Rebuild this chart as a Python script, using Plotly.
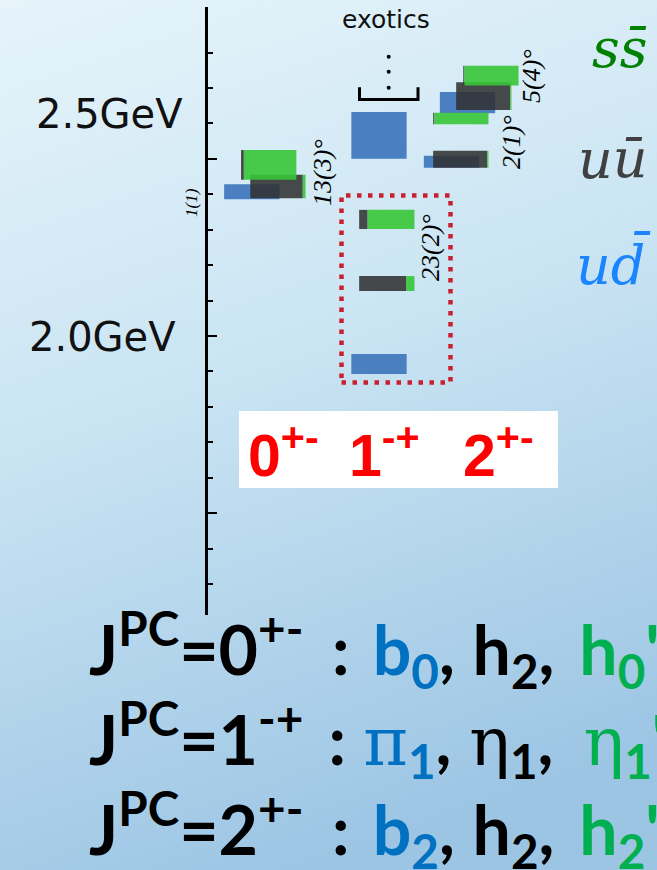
import base64
import math
import plotly.graph_objects as go

# ---------------- spectrum data ----------------
# isovector (u d-bar) states: J^PC, box centre and half-height (GeV)
iv_jpc = ["0+-", "1-+", "1-+", "2+-", "2+-"]
iv_mass = [2.407, 1.921, 2.566, 2.492, 2.659]
iv_err = [0.021, 0.028, 0.066, 0.017, 0.030]

# isoscalar pairs: mixing angle and its uncertainty (degrees)
pair_jpc = ["0+-", "1-+", "2+-", "2+-"]
pair_angle = [13, 23, 2, 5]
pair_angle_err = [3, 2, 1, 4]
# heavier member of each pair (mostly s s-bar)
heavy_mass = [2.483, 2.329, 2.614, 2.735]
heavy_err = [0.042, 0.027, 0.016, 0.028]
# lighter member of each pair (mostly u u-bar + d d-bar)
light_mass = [2.422, 2.148, 2.499, 2.677]
light_err = [0.033, 0.021, 0.024, 0.039]

# ---------------- layout constants ----------------
W, H = 657, 870
ML, MT, MB = 208, 7, 255
PW, PH = W - ML, H - MT - MB
PX_PER_GEV = 354.3
Y_LO = 2.0 - (H - MB - 336) / PX_PER_GEV
Y_HI = 2.0 + (336 - MT) / PX_PER_GEV
X_OFF = 207  # pixel where the x scale starts

# horizontal slot of each box (x axis: 100 px per unit)
iv_slot = [0.448, 1.72, 1.72, 2.445, 2.605]
heavy_slot = [0.617, 1.798, 2.538, 2.839]
light_slot = [0.709, 1.798, 2.538, 2.768]
BOX_W = 0.553
MIN_FRAC = 0.022  # keep a thin sliver visible for tiny mixing

BLUE = "rgb(74,127,193)"
GRAY = "rgba(50,50,50,0.88)"
GREEN = "rgba(55,197,55,0.9)"


def px(x):
    return (x - ML) / PW


def py(y):
    return (H - MB - y) / PH


# split every isoscalar box into a light (dark grey) and a strange (green) part
gray = dict(x=[], w=[], base=[], h=[])
green = dict(x=[], w=[], base=[], h=[])
for i, ang in enumerate(pair_angle):
    s2 = math.sin(math.radians(ang)) ** 2
    members = (
        (heavy_mass[i], heavy_err[i], heavy_slot[i], s2),
        (light_mass[i], light_err[i], light_slot[i], 1 - s2),
    )
    for mass, err, slot, light_frac in members:
        lf = min(max(light_frac, MIN_FRAC), 1 - MIN_FRAC)
        left = slot - BOX_W / 2
        wb = BOX_W * lf
        wg = BOX_W - wb
        gray["x"].append(left + wb / 2)
        gray["w"].append(wb)
        gray["base"].append(mass - err)
        gray["h"].append(2 * err)
        green["x"].append(left + wb + wg / 2)
        green["w"].append(wg)
        green["base"].append(mass - err)
        green["h"].append(2 * err)

fig = go.Figure()
fig.add_trace(go.Bar(
    x=iv_slot, y=[2 * e for e in iv_err], base=[m - e for m, e in zip(iv_mass, iv_err)],
    width=[BOX_W] * len(iv_mass), marker=dict(color=BLUE, line=dict(width=0)),
    hoverinfo="skip", showlegend=False))
fig.add_trace(go.Bar(
    x=gray["x"], y=gray["h"], base=gray["base"], width=gray["w"],
    marker=dict(color=GRAY, line=dict(width=0)), hoverinfo="skip", showlegend=False))
fig.add_trace(go.Bar(
    x=green["x"], y=green["h"], base=green["base"], width=green["w"],
    marker=dict(color=GREEN, line=dict(width=0)), hoverinfo="skip", showlegend=False))

# background gradient
svg = (
    f'<svg xmlns="http://www.w3.org/2000/svg" width="{W}" height="{H}">'
    '<defs><linearGradient id="g" gradientUnits="userSpaceOnUse" x1="0" y1="0" x2="300" y2="870">'
    '<stop offset="0" stop-color="#e6f4fa"/><stop offset="0.45" stop-color="#cbe5f3"/>'
    '<stop offset="1" stop-color="#9cc5e4"/></linearGradient></defs>'
    f'<rect width="{W}" height="{H}" fill="url(#g)"/></svg>'
)
bg_src = "data:image/svg+xml;base64," + base64.b64encode(svg.encode()).decode()

shapes = [
    # white panel behind the J^PC labels
    dict(type="rect", xref="paper", yref="paper", x0=px(239), x1=px(558), y0=py(488), y1=py(411),
         fillcolor="white", line=dict(width=0), layer="below"),
    # dotted frame around the 1-+ states
    dict(type="rect", xref="paper", yref="paper", x0=px(341.5), x1=px(450.5), y0=py(382.5), y1=py(195.5),
         line=dict(color="#c8202f", width=4.5, dash="4.5px,6.5px")),
    # bracket over the exotic column
    dict(type="path", xref="paper", yref="paper",
         path=f"M {px(359.5)} {py(87.3)} L {px(359.5)} {py(99.5)} L {px(418)} {py(99.5)} L {px(418)} {py(87.3)}",
         line=dict(color="black", width=3)),
]
for yd in (56.7, 71.7, 87.7):
    shapes.append(dict(type="circle", xref="paper", yref="paper",
                       x0=px(386.7), x1=px(390.7), y0=py(yd + 2), y1=py(yd - 2),
                       fillcolor="black", line=dict(width=0)))

ann = []


def add_text(text, x, y, size, family, color="black", xanchor="center", yanchor="middle",
             angle=0, style="normal", weight="normal"):
    ann.append(dict(text=text, x=px(x), y=py(y), xref="paper", yref="paper", showarrow=False,
                    xanchor=xanchor, yanchor=yanchor, textangle=angle,
                    font=dict(size=size, family=family, color=color, style=style, weight=weight)))


add_text("exotics", 386, 19, 25, "DejaVu Sans", color="#111")
add_text("2.5GeV", 185, 114, 40, "DejaVu Sans", xanchor="right", color="#111")
add_text("2.0GeV", 178, 337, 40, "DejaVu Sans", xanchor="right", color="#111")
add_text("1(1)", 192, 203, 17, "Liberation Serif", style="italic", angle=-90)

# mixing-angle labels
angle_label_pos = [(322, 173), (430, 248), (511, 142), (531, 76)]
for a, e, (lx, ly) in zip(pair_angle, pair_angle_err, angle_label_pos):
    add_text(f"{a}({e})°", lx, ly, 26, "Liberation Serif", style="italic", angle=-90)

# flavour key
add_text("ss\u0304", 619, 49, 54, "DejaVu Serif", color="green", style="italic")
add_text("uu\u0304", 613, 159, 54, "DejaVu Serif", color="#404040", style="italic")
add_text("ud\u0304", 613, 264, 54, "DejaVu Serif", color="#1a85ff", style="italic")

# J^PC column labels
jpc_text = ["0<sup>+-</sup>", "1<sup>-+</sup>", "2<sup>+-</sup>"]
jpc_x = [283, 384, 498]
for t, lx in zip(jpc_text, jpc_x):
    add_text(t, lx, 451, 59, "Liberation Sans", color="red", weight="bold")


# quantum-number summary lines
def gap(w):
    """Blank run about w pixels wide, built from small non-breaking spaces."""
    out = ""
    while w > 0.5:
        chunk = min(w, 12.0)
        out += f'<span style="font-size:{chunk / 0.193:.0f}px">\u00a0</span>'
        w -= chunk
    return out


BL = "#0070C0"
GR = "#00B050"
greek = "font-family:DejaVu Serif;font-weight:normal"
lines = [
    f'J<sup>PC</sup>=0<sup>+-</sup>{gap(22.6)}:{gap(18.6)}<span style="color:{BL}">b<sub>0</sub></span>,{gap(1)} h<sub>2</sub>,{gap(6.6)} '
    f'<span style="color:{GR}">h<sub>0</sub>\'</span>',
    f'J<sup>PC</sup>=1<sup>-+</sup>{gap(20)}:{gap(13.7)}<span style="color:{BL}"><span style="{greek}">π</span><sub>1</sub></span>,{gap(1)} '
    f'<span style="{greek}">η</span><sub>1</sub>,{gap(10.7)} <span style="color:{GR}"><span style="{greek}">η</span><sub>1</sub>\'</span>',
    f'J<sup>PC</sup>=2<sup>+-</sup>{gap(22.6)}:{gap(18.6)}<span style="color:{BL}">b<sub>2</sub></span>,{gap(1)} h<sub>2</sub>,{gap(6.6)} '
    f'<span style="color:{GR}">h<sub>2</sub>\'</span>',
]
for t, ly in zip(lines, (649, 739, 829)):
    add_text(t, 87, ly, 68, "Lato", xanchor="left", weight="bold")

fig.update_layout(
    width=W, height=H,
    margin=dict(l=ML, r=0, t=MT, b=MB, pad=0),
    paper_bgcolor="rgba(0,0,0,0)", plot_bgcolor="rgba(0,0,0,0)",
    barmode="overlay",
    xaxis=dict(range=[(ML - X_OFF) / 100, (W - X_OFF) / 100], visible=False, fixedrange=True),
    yaxis=dict(range=[Y_LO, Y_HI], showline=True, linecolor="black", linewidth=2.5,
               ticks="inside", ticklen=9, tickwidth=2, tickcolor="black",
               tickmode="array", tickvals=[1.5, 2.0, 2.5], showticklabels=False,
               showgrid=False, zeroline=False, fixedrange=True,
               minor=dict(tickmode="array",
                          tickvals=[1.3, 1.4, 1.6, 1.7, 1.8, 1.9, 2.1, 2.2, 2.3, 2.4, 2.6, 2.7, 2.8],
                          ticks="inside", ticklen=5.5, tickwidth=2, tickcolor="black", showgrid=False)),
    images=[dict(source=bg_src, xref="paper", yref="paper", x=px(0), y=py(0),
                 sizex=W / PW, sizey=H / PH, xanchor="left", yanchor="top",
                 sizing="stretch", layer="below")],
    shapes=shapes,
    annotations=ann,
    showlegend=False,
)

fig.write_html("out.html")
